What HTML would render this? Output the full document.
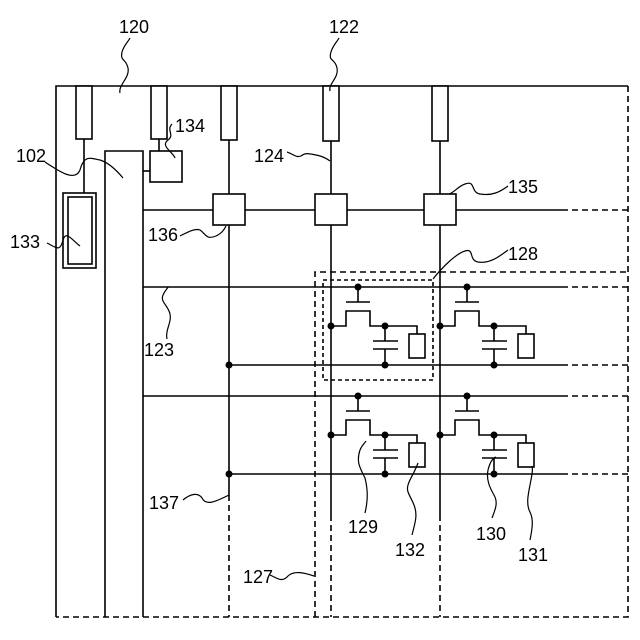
<!DOCTYPE html>
<html><head><meta charset="utf-8"><style>
html,body{margin:0;padding:0;background:#fff;width:640px;height:640px;overflow:hidden}
svg{display:block}
text{font-family:"Liberation Sans",sans-serif;font-size:18px;fill:#000}
</style></head><body>
<svg width="640" height="640" viewBox="0 0 640 640" xmlns="http://www.w3.org/2000/svg">
<g stroke="#000" stroke-width="1.6" fill="none">
<path d="M56,617 V86 H628"/>
<path d="M628,86 V617 H56" stroke-dasharray="6,4"/>
<rect x="76" y="86" width="16" height="53" fill="#fff"/>
<rect x="151" y="86" width="16" height="53" fill="#fff"/>
<rect x="221" y="86" width="16" height="54" fill="#fff"/>
<rect x="323" y="86" width="16" height="55" fill="#fff"/>
<rect x="432" y="86" width="16" height="55" fill="#fff"/>
<line x1="84" y1="139" x2="84" y2="193"/>
<rect x="63" y="193" width="33" height="75"/>
<rect x="68" y="197" width="24" height="67"/>
<path d="M105,617 V151 H143 V617"/>
<line x1="159" y1="139" x2="159" y2="151"/>
<rect x="150" y="151" width="32" height="31"/>
<line x1="143" y1="171" x2="150" y2="171"/>
<line x1="229" y1="140" x2="229" y2="495"/>
<line x1="229" y1="495" x2="229" y2="617" stroke-dasharray="6,4"/>
<line x1="331" y1="141" x2="331" y2="515"/>
<line x1="331" y1="515" x2="331" y2="617" stroke-dasharray="6,4"/>
<line x1="440" y1="141" x2="440" y2="515"/>
<line x1="440" y1="515" x2="440" y2="617" stroke-dasharray="6,4"/>
<line x1="143" y1="210" x2="562" y2="210"/>
<line x1="562" y1="210" x2="628" y2="210" stroke-dasharray="6,4"/>
<line x1="143" y1="287" x2="562" y2="287"/>
<line x1="562" y1="287" x2="628" y2="287" stroke-dasharray="6,4"/>
<line x1="229" y1="365" x2="562" y2="365"/>
<line x1="562" y1="365" x2="628" y2="365" stroke-dasharray="6,4"/>
<line x1="143" y1="396" x2="562" y2="396"/>
<line x1="562" y1="396" x2="628" y2="396" stroke-dasharray="6,4"/>
<line x1="229" y1="474" x2="562" y2="474"/>
<line x1="562" y1="474" x2="628" y2="474" stroke-dasharray="6,4"/>
<rect x="213" y="194" width="32" height="31" fill="#fff"/>
<rect x="315" y="194" width="32" height="31" fill="#fff"/>
<rect x="424" y="194" width="32" height="31" fill="#fff"/>
<path d="M315,617 V272 H628" stroke-dasharray="6,4"/>
<rect x="323" y="280" width="110" height="100" stroke-dasharray="4,3"/>
</g>
<g fill="#000">
<circle cx="229" cy="365" r="3.5"/>
<circle cx="229" cy="474" r="3.5"/>
</g>
<defs>
<g id="cell">
<g stroke="#000" stroke-width="1.6" fill="none">
<line x1="27" y1="0" x2="27" y2="15"/>
<line x1="15" y1="15" x2="39" y2="15"/>
<path d="M0,39 H15 V24 H39 V39 H86 V47"/>
<rect x="78" y="47" width="16" height="24" fill="#fff"/>
<line x1="54" y1="39" x2="54" y2="54"/>
<line x1="42" y1="54" x2="67" y2="54"/>
<line x1="42" y1="62" x2="67" y2="62"/>
<line x1="54" y1="62" x2="54" y2="78"/>
</g>
<g fill="#000">
<circle cx="27" cy="0" r="3.5"/>
<circle cx="0" cy="39" r="3.5"/>
<circle cx="54" cy="39" r="3.5"/>
<circle cx="54" cy="78" r="3.5"/>
</g>
</g>
</defs>
<use href="#cell" x="331" y="287"/>
<use href="#cell" x="440" y="287"/>
<use href="#cell" x="331" y="396"/>
<use href="#cell" x="440" y="396"/>
<g stroke="#000" stroke-width="1.2" fill="none">
<path d="M120,93 C118,85 130,78 128,68 C126,58 120,62 122,52 C124,45 128,42 130,38"/>
<path d="M330,91 C328,84 339,78 337,68 C335,58 328,62 331,52 C333,45 337,42 339,38"/>
<path d="M45,162 C60,172 75,182 80,170 C84,155 90,158 100,160 C110,163 118,172 123,178"/>
<path d="M47,243 C57,248 60,252 63,240 C66,230 72,240 80,246"/>
<path d="M172,124 C166,130 175,135 168,140 C160,146 173,152 175,158"/>
<path d="M287,152 C293,154 296,158 301,156 C306,152 310,154 316,155 C322,156 326,158 330,161"/>
<path d="M180,236 C188,232 195,228 200,230 C206,234 206,240 216,236 C222,233 224,230 226,226"/>
<path d="M508,186 C500,192 492,196 480,194 C470,192 476,180 465,184 C457,187 455,192 449,194"/>
<path d="M508,250 C500,256 490,264 478,262 C468,260 475,248 465,251 C455,254 440,270 433,279"/>
<path d="M167,339 C165,330 172,322 170,314 C168,305 160,302 163,295 C165,290 168,288 168,287"/>
<path d="M183,500 C190,494 198,492 202,498 C206,506 215,502 229,495"/>
<path d="M270,575 C277,578 282,583 288,576 C294,570 305,573 314,576"/>
<path d="M365,513 C368,500 368,490 365,478 C360,468 356,462 360,450 C362,445 365,443 366,441"/>
<path d="M412,535 C415,523 418,515 414,505 C410,495 406,492 408,485 C410,478 414,474 418,463"/>
<path d="M492,518 C496,508 498,502 494,495 C490,488 486,480 488,470 C490,462 493,458 496,457"/>
<path d="M530,540 C532,530 534,520 530,512 C526,505 528,495 530,485 C532,475 533,470 532,466"/>
</g>
<text x="119" y="33">120</text>
<text x="329" y="33">122</text>
<text x="175" y="132">134</text>
<text x="16" y="162">102</text>
<text x="10" y="248">133</text>
<text x="254" y="162">124</text>
<text x="148" y="241">136</text>
<text x="508" y="193">135</text>
<text x="508" y="260">128</text>
<text x="144" y="356">123</text>
<text x="149" y="509">137</text>
<text x="243" y="583">127</text>
<text x="348" y="533">129</text>
<text x="395" y="556">132</text>
<text x="476" y="540">130</text>
<text x="518" y="561">131</text>
</svg>
</body></html>
